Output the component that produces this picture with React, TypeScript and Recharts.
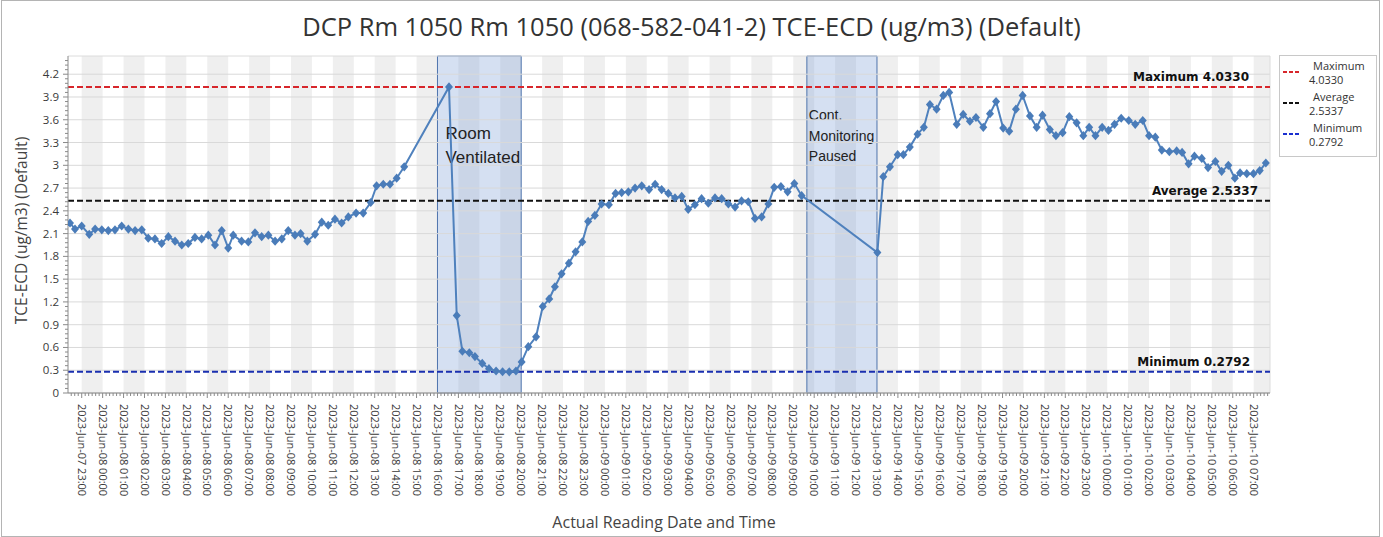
import { LineChart, Line, XAxis, YAxis, ReferenceLine, ReferenceArea, Label } from "recharts";

// hourly tick labels, index 0 = 2023-Jun-07 23:00
const hourLabels = [
  "2023-Jun-07 23:00",
  "2023-Jun-08 00:00", "2023-Jun-08 01:00", "2023-Jun-08 02:00", "2023-Jun-08 03:00",
  "2023-Jun-08 04:00", "2023-Jun-08 05:00", "2023-Jun-08 06:00", "2023-Jun-08 07:00",
  "2023-Jun-08 08:00", "2023-Jun-08 09:00", "2023-Jun-08 10:00", "2023-Jun-08 11:00",
  "2023-Jun-08 12:00", "2023-Jun-08 13:00", "2023-Jun-08 14:00", "2023-Jun-08 15:00",
  "2023-Jun-08 16:00", "2023-Jun-08 17:00", "2023-Jun-08 18:00", "2023-Jun-08 19:00",
  "2023-Jun-08 20:00", "2023-Jun-08 21:00", "2023-Jun-08 22:00", "2023-Jun-08 23:00",
  "2023-Jun-09 00:00", "2023-Jun-09 01:00", "2023-Jun-09 02:00", "2023-Jun-09 03:00",
  "2023-Jun-09 04:00", "2023-Jun-09 05:00", "2023-Jun-09 06:00", "2023-Jun-09 07:00",
  "2023-Jun-09 08:00", "2023-Jun-09 09:00", "2023-Jun-09 10:00", "2023-Jun-09 11:00",
  "2023-Jun-09 12:00", "2023-Jun-09 13:00", "2023-Jun-09 14:00", "2023-Jun-09 15:00",
  "2023-Jun-09 16:00", "2023-Jun-09 17:00", "2023-Jun-09 18:00", "2023-Jun-09 19:00",
  "2023-Jun-09 20:00", "2023-Jun-09 21:00", "2023-Jun-09 22:00", "2023-Jun-09 23:00",
  "2023-Jun-10 00:00", "2023-Jun-10 01:00", "2023-Jun-10 02:00", "2023-Jun-10 03:00",
  "2023-Jun-10 04:00", "2023-Jun-10 05:00", "2023-Jun-10 06:00", "2023-Jun-10 07:00",
];

// reading time in hours after 2023-Jun-07 23:00
const readingHours = [
  -0.56, -0.32, 0.0, 0.36, 0.64, 0.96, 1.27, 1.59, 1.91, 2.23, 2.55, 2.87, 3.18, 3.5, 3.82, 4.14,
  4.46, 4.78, 5.09, 5.41, 5.73, 6.05, 6.37, 6.69, 7.0, 7.24, 7.64, 7.96, 8.28, 8.6, 8.92, 9.24,
  9.56, 9.87, 10.19, 10.46, 10.78, 11.15, 11.47, 11.78, 12.1, 12.42, 12.74, 13.11, 13.45, 13.81,
  14.09, 14.41, 14.73, 15.05, 15.41,
  17.55, 17.92, 18.19, 18.52, 18.79, 19.14, 19.46, 19.8, 20.11, 20.43, 20.75, 21.02, 21.34, 21.71,
  22.03, 22.34, 22.61, 22.93, 23.28, 23.6, 23.92, 24.2, 24.52, 24.84, 25.19, 25.51, 25.8, 26.12,
  26.44, 26.76, 27.11, 27.4, 27.71, 28.03, 28.35, 28.67, 28.98, 29.3, 29.62, 29.94, 30.26, 30.58,
  30.9, 31.22, 31.53, 31.85, 32.17, 32.49, 32.81, 33.09, 33.41, 33.73, 34.05, 34.4,
  38.02, 38.3, 38.62, 38.99, 39.26, 39.57, 39.94, 40.24, 40.53, 40.85, 41.17, 41.45, 41.81, 42.12,
  42.44, 42.73, 43.08, 43.4, 43.69, 44.03, 44.32, 44.64, 44.96, 45.31, 45.63, 45.91, 46.26, 46.55,
  46.87, 47.19, 47.54, 47.86, 48.14, 48.44, 48.76, 49.06, 49.35, 49.67, 50.03, 50.34, 50.7, 51.0,
  51.3, 51.61, 51.97, 52.32, 52.58, 52.89, 53.17, 53.52, 53.82, 54.17, 54.47, 54.79, 55.1, 55.35,
  55.67, 55.99, 56.29, 56.58,
];

const readingValues = [
  2.24, 2.16, 2.2, 2.09, 2.16, 2.15, 2.14, 2.15, 2.2, 2.16, 2.14, 2.15, 2.04, 2.03, 1.97, 2.06,
  2.0, 1.95, 1.97, 2.05, 2.03, 2.08, 1.95, 2.14, 1.91, 2.08, 2.0, 1.99, 2.11, 2.06, 2.08, 2.0,
  2.03, 2.14, 2.08, 2.1, 2.0, 2.09, 2.25, 2.21, 2.29, 2.24, 2.32, 2.37, 2.37, 2.51,
  2.73, 2.75, 2.75, 2.83, 2.98,
  4.033, 1.02, 0.55, 0.53, 0.48, 0.39, 0.32, 0.29, 0.28, 0.2792, 0.29, 0.41, 0.61, 0.74,
  1.14, 1.24, 1.4, 1.57, 1.71, 1.86, 1.99, 2.26, 2.34, 2.49, 2.48, 2.63, 2.64, 2.65,
  2.7, 2.73, 2.68, 2.75, 2.68, 2.63, 2.57, 2.59, 2.42, 2.48, 2.56, 2.5, 2.57, 2.56,
  2.49, 2.45, 2.53, 2.52, 2.3, 2.32, 2.49, 2.71, 2.72, 2.65, 2.76, 2.6,
  1.85, 2.85, 2.98, 3.14, 3.14, 3.24, 3.41, 3.5, 3.8, 3.74, 3.92, 3.96, 3.54, 3.67,
  3.58, 3.63, 3.5, 3.68, 3.84, 3.49, 3.45, 3.74, 3.92, 3.65, 3.5, 3.66, 3.47, 3.39,
  3.43, 3.64, 3.56, 3.39, 3.5, 3.39, 3.5, 3.46, 3.54, 3.62, 3.59, 3.54, 3.59, 3.39,
  3.37, 3.2, 3.18, 3.19, 3.17, 3.02, 3.12, 3.09, 2.97, 3.05, 2.92, 3.0, 2.83, 2.9,
  2.89, 2.89, 2.93, 3.03,
];

const yMajorTicks = [0, 0.3, 0.6, 0.9, 1.2, 1.5, 1.8, 2.1, 2.4, 2.7, 3, 3.3, 3.6, 3.9, 4.2];

const statMax = 4.033;
const statAvg = 2.5337;
const statMin = 0.2792;

const eventNames = [["Room", "Ventilated"], ["Cont.", "Monitoring", "Paused"]];
const eventStart = [17, 34.65];
const eventEnd = [21, 38.0];

const X_MIN = -0.655;
const X_MAX = 56.78;
const Y_MAX = 4.44;
const FONT = "'Open Sans', sans-serif";
const AXIS = "#8a8a8a";

const data = readingHours.map((h, i) => ({ h, v: readingValues[i] }));

const xTickValues = Array.from({ length: 345 }, (_, k) => (k - 3) / 6).filter((v) => v <= X_MAX);
const yTickValues = Array.from({ length: 74 }, (_, k) => Math.round(k * 6) / 100);

const XTick = (props: any) => {
  const { x, y, payload } = props;
  const v = payload.value;
  const idx = Math.round(v);
  const major = Math.abs(v - idx) < 1e-6 && idx >= 0 && idx < hourLabels.length;
  return (
    <g>
      <line x1={x} x2={x} y1={y} y2={y + (major ? 5 : 3)} stroke={AXIS} />
      {major && (
        <text
          x={x}
          y={y + 11}
          transform={`rotate(90 ${x} ${y + 11})`}
          dy="0.35em"
          textAnchor="start"
          fontSize={11}
          fontFamily={FONT}
          fill="#3a3a3a"
        >
          {hourLabels[idx]}
        </text>
      )}
    </g>
  );
};

const YTick = (props: any) => {
  const { x, y, payload } = props;
  const v = payload.value;
  const major = yMajorTicks.some((m) => Math.abs(m - v) < 1e-6);
  return (
    <g>
      <line x1={x - (major ? 5 : 3)} x2={x} y1={y} y2={y} stroke={AXIS} />
      {major && (
        <text x={x - 9} y={y} dy="0.35em" textAnchor="end" fontSize={11.5} fontFamily={FONT} fill="#3a3a3a">
          {String(Number(v.toFixed(2)))}
        </text>
      )}
    </g>
  );
};

const yTitle = (p: any) => {
  const vb = p.viewBox;
  if (!vb) return null;
  const cx = vb.x + 22;
  const cy = vb.y + vb.height / 2 + 6;
  return (
    <text
      x={cx}
      y={cy}
      transform={`rotate(-90 ${cx} ${cy})`}
      dy="0.35em"
      textAnchor="middle"
      fontSize={15.5}
      fontFamily={FONT}
      fill="#444"
    >
      TCE-ECD (ug/m3) (Default)
    </text>
  );
};

const statLabel = (text: string, inset: number) => (p: any) => {
  const vb = p.viewBox;
  if (!vb) return null;
  return (
    <text
      x={vb.x + vb.width - inset}
      y={vb.y - 6}
      textAnchor="end"
      fontSize={12}
      fontWeight="bold"
      fontFamily="'DejaVu Sans', sans-serif"
      fill="#111"
    >
      {text}
    </text>
  );
};

const eventLabel = (lines: string[], big: boolean) => (p: any) => {
  const vb = p.viewBox;
  if (!vb) return null;
  const fs = big ? 17 : 14;
  const lh = big ? 24 : 20.5;
  const top = big ? 83 : 64;
  return (
    <text x={vb.x + (big ? 8 : 2)} y={vb.y + top} fontSize={fs} fontFamily="'Liberation Sans', Arial, sans-serif" fill="#222">
      {lines.map((l, i) => (
        <tspan key={i} x={vb.x + (big ? 8 : 2)} dy={i === 0 ? 0 : lh}>
          {l}
        </tspan>
      ))}
    </text>
  );
};

const Diamond = (p: any) => {
  const { cx, cy, index } = p;
  if (cx == null || cy == null) return <g key={index} />;
  return (
    <path
      key={index}
      d={`M${cx},${cy - 4.6}L${cx + 4},${cy}L${cx},${cy + 4.6}L${cx - 4},${cy}Z`}
      fill="#4a7cb9"
    />
  );
};

const legendItems = [
  { name: "Maximum", value: "4.0330", color: "#d7262b" },
  { name: "Average", value: "2.5337", color: "#111111" },
  { name: "Minimum", value: "0.2792", color: "#1a2fd0" },
];

export default function App() {
  const bands = hourLabels.map((_, i) => i).filter((i) => i % 2 === 0);
  return (
    <div style={{ position: "absolute", left: 0, top: 0, width: 1383, height: 537, background: "#fff" }}>
      <div
        style={{
          position: "absolute",
          left: 1,
          top: 0,
          width: 1377,
          height: 535,
          border: "1px solid #b4b4b4",
          pointerEvents: "none",
        }}
      />
      <div
        style={{
          position: "absolute",
          left: 0,
          top: 14,
          width: 1383,
          textAlign: "center",
          fontFamily: FONT,
          fontSize: 25.5,
          lineHeight: "25px",
          color: "#333",
        }}
      >
        DCP Rm 1050 Rm 1050 (068-582-041-2) TCE-ECD (ug/m3) (Default)
      </div>

      <LineChart
        width={1383}
        height={537}
        data={data}
        margin={{ top: 56, right: 113, bottom: 0, left: 0 }}
        style={{ position: "absolute", left: 0, top: 0 }}
      >
        <XAxis
          dataKey="h"
          type="number"
          domain={[X_MIN, X_MAX]}
          allowDataOverflow
          ticks={xTickValues}
          interval={0}
          tickSize={0}
          tickMargin={0}
          tickLine={false}
          tick={<XTick />}
          axisLine={{ stroke: AXIS }}
          height={144}
        >
          <Label
            value="Actual Reading Date and Time"
            position="insideBottom"
            offset={9}
            dx={-5}
            fontSize={16}
            fontFamily={FONT}
            fill="#444"
          />
        </XAxis>
        <YAxis
          type="number"
          domain={[0, Y_MAX]}
          allowDataOverflow
          ticks={yTickValues}
          interval={0}
          tickSize={0}
          tickMargin={0}
          tickLine={false}
          tick={<YTick />}
          axisLine={{ stroke: AXIS }}
          width={68}
        >
          <Label content={yTitle} />
        </YAxis>

        {bands.map((i) => (
          <ReferenceArea
            key={`band-${i}`}
            x1={i}
            x2={Math.min(i + 1, X_MAX)}
            fill="#efefef"
            fillOpacity={1}
            stroke="none"
          />
        ))}
        {yMajorTicks.map((v) => (
          <ReferenceLine key={`g-${v}`} y={v} stroke="#d9d9d9" />
        ))}
        <ReferenceLine y={Y_MAX} stroke="#dcdcdc" />
        <ReferenceLine x={X_MAX} stroke="#dcdcdc" />

        {eventNames.map((lines, i) => (
          <ReferenceArea
            key={`ev-${i}`}
            x1={eventStart[i]}
            x2={eventEnd[i]}
            fill="#7c9fd6"
            fillOpacity={0.32}
            stroke="#4f74ad"
            strokeOpacity={1}
            label={eventLabel(lines, i === 0)}
          />
        ))}

        <ReferenceLine
          y={statMax}
          stroke="#d7262b"
          strokeWidth={2}
          strokeDasharray="6 3"
          label={statLabel("Maximum 4.0330", 21)}
        />
        <ReferenceLine
          y={statAvg}
          stroke="#111"
          strokeWidth={2}
          strokeDasharray="6 3"
          label={statLabel("Average 2.5337", 12)}
        />
        <ReferenceLine
          y={statMin}
          stroke="#1a2fb0"
          strokeWidth={2}
          strokeDasharray="6 3"
          label={statLabel("Minimum 0.2792", 20)}
        />

        <Line
          dataKey="v"
          type="linear"
          stroke="#4f81bd"
          strokeWidth={2}
          dot={Diamond}
          activeDot={false}
          isAnimationActive={false}
        />
      </LineChart>

      <svg
        width={98}
        height={102}
        style={{ position: "absolute", left: 1279, top: 55 }}
      >
        <rect x={0.5} y={0.5} width={97} height={101} fill="#fff" stroke="#c8c8c8" />
        {legendItems.map((it, i) => {
          const base = 17 + i * 31;
          return (
            <g key={it.name}>
              <line x1={4} x2={21} y1={base} y2={base} stroke={it.color} strokeWidth={2} strokeDasharray="4 2" />
              <text x={34} y={base - 6} dy="0.35em" fontSize={11} fontFamily={FONT} fill="#333">
                {it.name}
              </text>
              <text x={30} y={base + 8} dy="0.35em" fontSize={11} fontFamily={FONT} fill="#333">
                {it.value}
              </text>
            </g>
          );
        })}
      </svg>
    </div>
  );
}
